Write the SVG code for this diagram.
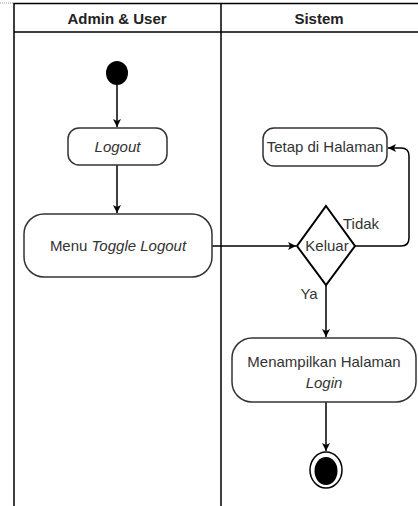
<svg xmlns="http://www.w3.org/2000/svg" width="418" height="506" viewBox="0 0 418 506">
<style>
.lane{fill:none;stroke:#000;stroke-width:1.5}
.node{fill:#fff;stroke:#333;stroke-width:1.5}
.t{font-family:"Liberation Sans",Arial,sans-serif;font-size:15px;fill:#333;text-anchor:middle}
.h{font-family:"Liberation Sans",Arial,sans-serif;font-size:15px;font-weight:bold;fill:#222;text-anchor:middle}
.i{font-style:italic}
.c{fill:none;stroke:#000;stroke-width:1.5}
</style>
<defs>
<marker id="arr" markerWidth="10" markerHeight="10" refX="9" refY="5" orient="auto" markerUnits="userSpaceOnUse">
<path d="M1,1 L9,5 L1,9 L3,5 Z" fill="#000"/>
</marker>
</defs>
<rect width="418" height="506" fill="#fff"/>
<line x1="0" y1="3" x2="14" y2="3" stroke="#999" stroke-width="1" stroke-dasharray="1,1"/>
<g id="lanes">
<path class="lane" d="M14,506 V3.5 H418 M14,32 H418 M221,3.5 V506"/>
<text class="h" x="117" y="24">Admin &amp; User</text>
<text class="h" x="319" y="24">Sistem</text>
</g>
<g id="connectors">
<path class="c" d="M117,85 V127" marker-end="url(#arr)"/>
<path class="c" d="M117,165 V213" marker-end="url(#arr)"/>
<path class="c" d="M212,246 H296" marker-end="url(#arr)"/>
<path class="c" d="M355,246 H401 Q409,246 409,238 V156 Q409,148 401,148 H388" marker-end="url(#arr)"/>
<path class="c" d="M326,285 V337" marker-end="url(#arr)"/>
<path class="c" d="M326,402 V451" marker-end="url(#arr)"/>
<text class="t" x="361" y="229">Tidak</text>
<text class="t" x="309" y="299">Ya</text>
</g>
<g id="start">
<ellipse cx="117" cy="73" rx="11" ry="12" fill="#000"/>
</g>
<g id="logout">
<rect class="node" x="68" y="128" width="99" height="37" rx="11"/>
<text class="t i" x="117.5" y="152">Logout</text>
</g>
<g id="menu">
<rect class="node" x="24" y="214" width="188" height="63" rx="20"/>
<text class="t" x="118" y="251">Menu <tspan class="i">Toggle Logout</tspan></text>
</g>
<g id="keluar">
<path class="node" d="M326,206 L355,246 L326,285 L297,246 Z" style="stroke:#000;stroke-width:2"/>
<text class="t" x="327" y="251">Keluar</text>
</g>
<g id="tetap">
<rect class="node" x="263" y="128" width="124" height="38" rx="11"/>
<text class="t" x="325" y="152">Tetap di Halaman</text>
</g>
<g id="menampilkan">
<rect class="node" x="232" y="338" width="184" height="64" rx="20"/>
<text class="t" x="324" y="367">Menampilkan Halaman</text>
<text class="t i" x="324" y="388">Login</text>
</g>
<g id="end">
<ellipse cx="326" cy="470" rx="16" ry="18" fill="#fff" stroke="#000" stroke-width="1.5"/>
<ellipse cx="326" cy="471" rx="11.5" ry="14" fill="#000"/>
</g>
</svg>
